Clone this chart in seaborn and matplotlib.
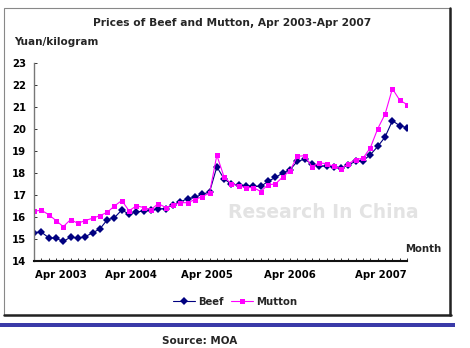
import numpy as np
import pandas as pd
import matplotlib
matplotlib.use("Agg")
import matplotlib.pyplot as plt
from matplotlib.patches import Rectangle
from matplotlib.lines import Line2D
import seaborn as sns

# ---- data (monthly, Jan 2003 - Apr 2007), Yuan/kilogram ----
months = pd.date_range("2003-01-01", periods=52, freq="MS").strftime("%b %Y").tolist()
beef = [15.28, 15.30, 15.05, 15.02, 14.88, 15.07, 15.03, 15.09, 15.27, 15.44, 15.86, 15.96,
        16.31, 16.12, 16.22, 16.26, 16.29, 16.36, 16.37, 16.55, 16.67, 16.83, 16.88, 17.03,
        17.12, 18.27, 17.72, 17.48, 17.45, 17.41, 17.38, 17.38, 17.61, 17.79, 17.99, 18.14,
        18.52, 18.62, 18.40, 18.29, 18.32, 18.26, 18.22, 18.37, 18.52, 18.55, 18.83, 19.20,
        19.63, 20.37, 20.15, 20.05]
mutton = [16.25, 16.30, 16.10, 15.83, 15.55, 15.87, 15.70, 15.83, 15.93, 16.05, 16.20, 16.49,
          16.74, 16.27, 16.50, 16.42, 16.33, 16.60, 16.42, 16.54, 16.64, 16.64, 16.78, 16.92,
          17.08, 18.80, 17.80, 17.50, 17.41, 17.33, 17.33, 17.15, 17.46, 17.49, 17.81, 18.10,
          18.75, 18.78, 18.28, 18.45, 18.42, 18.29, 18.19, 18.42, 18.60, 18.67, 19.15, 20.01,
          20.67, 21.83, 21.31, 21.11]
series_names = ["Beef", "Mutton"]
tick_labels = ["Apr 2003", "Apr 2004", "Apr 2005", "Apr 2006", "Apr 2007"]
tick_pos = [3.65, 13.3, 23.6, 35.05, 47.45]
y_ticks = list(range(14, 24))

df = pd.DataFrame({
    "idx": list(range(len(months))) * 2,
    "month": months * 2,
    "price": beef + mutton,
    "series": ["Beef"] * len(beef) + ["Mutton"] * len(mutton),
})

sns.set_style("white")
plt.rcParams["font.family"] = ["DejaVu Sans"]
plt.rcParams["font.weight"] = "bold"

W, H = 470, 348
fig = plt.figure(figsize=(W / 100, H / 100), dpi=100)

def fx(px):
    return px / W

def fy(py):
    return 1 - py / H

ax = fig.add_axes([fx(34), fy(260.7), fx(407) - fx(34), fy(63) - fy(260.7)])

NAVY = "#000080"
MAG = "#FF00FF"

# watermark
fig.text(fx(323), fy(212), "Research In China", ha="center", va="center",
         fontsize=13.5, color="#e3e3e3", fontweight="bold",
         family=["DejaVu Sans"], zorder=0)

sns.lineplot(data=df, x="idx", y="price", hue="series", style="series",
             palette={"Beef": NAVY, "Mutton": MAG},
             markers={"Beef": "D", "Mutton": "s"}, dashes=False,
             markersize=3.6, markeredgewidth=0, linewidth=0.8,
             legend=False, ax=ax)

ax.set_xlim(0, 51)
ax.set_ylim(14, 23)
ax.set_xlabel("")
ax.set_ylabel("")
ax.set_facecolor("none")
ax.patch.set_alpha(0)

ax.set_yticks(y_ticks)
ax.set_yticklabels([str(v) for v in y_ticks], fontsize=7.3, fontweight="bold")
ax.set_xticks(tick_pos)
ax.set_xticklabels(tick_labels, fontsize=7.3, fontweight="bold")
ax.set_xticks(range(0, 52), minor=True)
ax.tick_params(axis="x", which="major", length=0, pad=7, colors="black")
ax.tick_params(axis="x", which="minor", length=2.2, direction="in", width=0.7, color="#333333", bottom=True)
ax.tick_params(axis="y", which="major", length=2.2, direction="in", width=0.7, pad=5.5,
               color="#333333", left=True, labelcolor="black")

for s in ["top", "right"]:
    ax.spines[s].set_visible(False)
ax.spines["left"].set_color("#777777")
ax.spines["left"].set_linewidth(1.0)
ax.spines["bottom"].set_color("#111111")
ax.spines["bottom"].set_linewidth(1.5)

# texts
fig.text(fx(232), fy(23), "Prices of Beef and Mutton, Apr 2003-Apr 2007",
         ha="center", va="center", fontsize=7.7, fontweight="bold")
fig.text(fx(14), fy(42), "Yuan/kilogram", ha="left", va="center",
         fontsize=7.5, fontweight="bold")
fig.text(fx(405), fy(249), "Month", ha="left", va="center",
         fontsize=7.3, fontweight="bold")
fig.text(fx(200), fy(341), "Source: MOA", ha="center", va="center",
         fontsize=7.5, fontweight="bold")

# legend
handles = [Line2D([0], [0], color=NAVY, lw=0.8, marker="D", markersize=3.6, markeredgewidth=0),
           Line2D([0], [0], color=MAG, lw=0.8, marker="s", markersize=3.6, markeredgewidth=0)]
fig.legend(handles, series_names, loc="center", bbox_to_anchor=(fx(235), fy(302)),
           ncol=2, frameon=False, handlelength=2.2, handletextpad=0.3,
           columnspacing=0.7, borderpad=0, prop={"weight": "bold", "size": 7.3})

# frame and bottom bar
fig.add_artist(Rectangle((fx(4), fy(315)), fx(450) - fx(4), fy(8) - fy(315),
                         transform=fig.transFigure, fill=False, edgecolor="#888888", lw=0.8))
fig.add_artist(Line2D([fx(450), fx(450)], [fy(315), fy(8)], transform=fig.transFigure,
                      color="#222222", lw=1.8))
fig.add_artist(Line2D([fx(4), fx(451)], [fy(315), fy(315)], transform=fig.transFigure,
                      color="#222222", lw=1.8))
fig.add_artist(Rectangle((0, fy(327)), fx(455), fy(323) - fy(327),
                         transform=fig.transFigure, color="#3a3aa8", lw=0))

fig.savefig("out.png", dpi=100)
